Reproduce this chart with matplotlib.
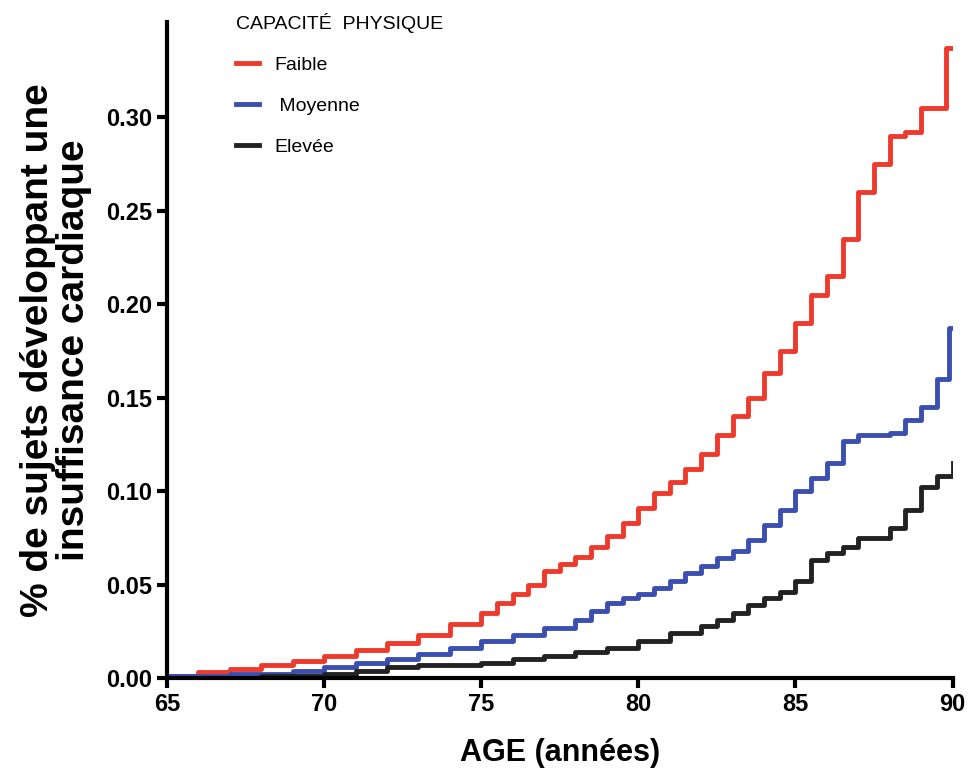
import matplotlib.pyplot as plt

age_faible = [65, 66, 67, 68, 69, 70, 71, 72, 73, 74, 75, 75.5, 76, 76.5, 77, 77.5, 78, 78.5, 79, 79.5, 80, 80.5, 81, 81.5, 82, 82.5, 83, 83.5, 84, 84.5, 85, 85.5, 86, 86.5, 87, 87.5, 88, 88.5, 89, 89.5, 89.8, 90]
val_faible = [0.001, 0.003, 0.005, 0.007, 0.009, 0.012, 0.015, 0.019, 0.023, 0.029, 0.035, 0.040, 0.045, 0.050, 0.057, 0.061, 0.065, 0.070, 0.076, 0.083, 0.091, 0.099, 0.105, 0.112, 0.120, 0.130, 0.140, 0.150, 0.163, 0.175, 0.190, 0.205, 0.215, 0.235, 0.260, 0.275, 0.290, 0.292, 0.305, 0.305, 0.337, 0.337]

age_moy = [65, 67, 69, 70, 71, 72, 73, 74, 75, 76, 77, 78, 78.5, 79, 79.5, 80, 80.5, 81, 81.5, 82, 82.5, 83, 83.5, 84, 84.5, 85, 85.5, 86, 86.5, 87, 88, 88.5, 89, 89.5, 89.9, 90]
val_moy = [0.001, 0.002, 0.004, 0.006, 0.008, 0.010, 0.013, 0.016, 0.020, 0.023, 0.027, 0.031, 0.036, 0.040, 0.043, 0.045, 0.048, 0.052, 0.056, 0.060, 0.064, 0.068, 0.074, 0.082, 0.090, 0.100, 0.107, 0.115, 0.127, 0.130, 0.131, 0.138, 0.145, 0.160, 0.187, 0.187]

age_elev = [65, 68, 70, 71, 72, 73, 75, 76, 77, 78, 79, 80, 81, 82, 82.5, 83, 83.5, 84, 84.5, 85, 85.5, 86, 86.5, 87, 88, 88.5, 89, 89.5, 90]
val_elev = [0.000, 0.001, 0.002, 0.004, 0.006, 0.007, 0.008, 0.010, 0.012, 0.014, 0.016, 0.020, 0.024, 0.028, 0.031, 0.035, 0.039, 0.043, 0.046, 0.052, 0.063, 0.067, 0.070, 0.075, 0.080, 0.090, 0.102, 0.108, 0.115]

plt.rcParams['font.family'] = ['Liberation Sans', 'DejaVu Sans']
fig = plt.figure(figsize=(9.71, 7.71), dpi=100)
ax = fig.add_axes([0.172, 0.1206, 0.809, 0.851])

ax.plot(age_faible, val_faible, drawstyle='steps-post', color='#ee3a2c', lw=3.5, label='Faible')
ax.plot(age_moy, val_moy, drawstyle='steps-post', color='#3a4fb0', lw=3.5, label=' Moyenne')
ax.plot(age_elev, val_elev, drawstyle='steps-post', color='#222222', lw=3.5, label='Elevée')

ax.set_xlim(65, 90)
ax.set_ylim(0, 0.351)
ax.set_xticks([65, 70, 75, 80, 85, 90])
ax.set_yticks([0, 0.05, 0.10, 0.15, 0.20, 0.25, 0.30])
ax.set_yticklabels(['0.00', '0.05', '0.10', '0.15', '0.20', '0.25', '0.30'])
for s in ['top', 'right']:
    ax.spines[s].set_visible(False)
for s in ['left', 'bottom']:
    ax.spines[s].set_linewidth(3)
ax.tick_params(width=3, length=7, labelsize=17)
for t in ax.get_xticklabels() + ax.get_yticklabels():
    t.set_fontweight('bold')

ax.set_xlabel('AGE (années)', fontsize=22, fontweight='bold', labelpad=16)
ax.set_ylabel('% de sujets développant une\ninsuffisance cardiaque', fontsize=28, fontweight='bold', labelpad=10, linespacing=1.0)

leg = ax.legend(loc='upper left', bbox_to_anchor=(0.065, 1.04), frameon=False, title='CAPACITÉ  PHYSIQUE',
                fontsize=14, title_fontsize=14, handlelength=1.2, labelspacing=1.2)
leg._legend_box.align = 'left'

fig.savefig('out.png')
